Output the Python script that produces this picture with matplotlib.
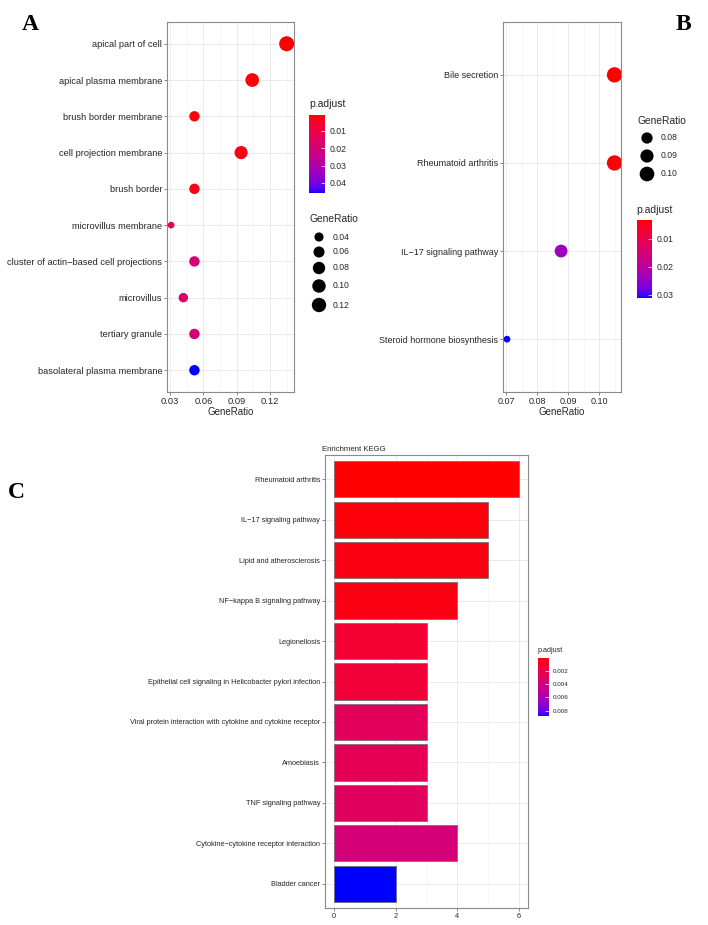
import numpy as np
import matplotlib
matplotlib.use("Agg")
import matplotlib.pyplot as plt
from matplotlib.colors import ListedColormap, Normalize
from matplotlib.cm import ScalarMappable

# ---- data -------------------------------------------------------------
go_terms = ["apical part of cell", "apical plasma membrane", "brush border membrane",
            "cell projection membrane", "brush border", "microvillus membrane",
            "cluster of actin\u2212based cell projections", "microvillus",
            "tertiary granule", "basolateral plasma membrane"]
go_ratio = [0.135, 0.104, 0.052, 0.094, 0.052, 0.031, 0.052, 0.042, 0.052, 0.052]
go_padj = [0.0008, 0.0012, 0.0022, 0.0024, 0.0030, 0.0095, 0.0200, 0.0160, 0.0200, 0.0458]
go_xticks = [0.03, 0.06, 0.09, 0.12]
go_size_breaks = [0.04, 0.06, 0.08, 0.10, 0.12]
go_cbar_ticks = [0.01, 0.02, 0.03, 0.04]

kd_terms = ["Bile secretion", "Rheumatoid arthritis", "IL\u221217 signaling pathway",
            "Steroid hormone biosynthesis"]
kd_ratio = [0.105, 0.105, 0.0877, 0.0702]
kd_padj = [0.0033, 0.0036, 0.0235, 0.0311]
kd_xticks = [0.07, 0.08, 0.09, 0.10]
kd_size_breaks = [0.08, 0.09, 0.10]
kd_cbar_ticks = [0.01, 0.02, 0.03]

kegg_terms = ["Rheumatoid arthritis", "IL\u221217 signaling pathway", "Lipid and atherosclerosis",
              "NF\u2212kappa B signaling pathway", "Legionellosis",
              "Epithelial cell signaling in Helicobacter pylori infection",
              "Viral protein interaction with cytokine and cytokine receptor",
              "Amoebiasis", "TNF signaling pathway", "Cytokine\u2212cytokine receptor interaction",
              "Bladder cancer"]
kegg_count = [6, 5, 5, 4, 3, 3, 3, 3, 3, 4, 2]
kegg_padj = [0.00006, 0.0002, 0.0004, 0.0004, 0.0012, 0.0014, 0.0027, 0.0025, 0.0028, 0.0038, 0.0088]
kegg_xticks = [0, 2, 4, 6]
kegg_cbar_ticks = [0.002, 0.004, 0.006, 0.008]

# ---- helpers ----------------------------------------------------------
W, H, DPI = 708, 925, 100
TXT = "#262626"
plt.rcParams["font.family"] = ["Liberation Sans", "DejaVu Sans"]


def srgb_to_lab(c):
    c = np.asarray(c, float)
    lin = np.where(c <= 0.04045, c / 12.92, ((c + 0.055) / 1.055) ** 2.4)
    m = np.array([[0.4124, 0.3576, 0.1805], [0.2126, 0.7152, 0.0722], [0.0193, 0.1192, 0.9505]])
    xyz = m @ lin / np.array([0.95047, 1.0, 1.08883])
    f = np.where(xyz > 0.008856, np.cbrt(xyz), 7.787 * xyz + 16 / 116)
    return np.array([116 * f[1] - 16, 500 * (f[0] - f[1]), 200 * (f[1] - f[2])])


def lab_to_srgb(lab):
    L, a, b = lab
    fy = (L + 16) / 116
    f = np.array([fy + a / 500, fy, fy - b / 200])
    xyz = np.where(f ** 3 > 0.008856, f ** 3, (f - 16 / 116) / 7.787) * np.array([0.95047, 1.0, 1.08883])
    m = np.array([[0.4124, 0.3576, 0.1805], [0.2126, 0.7152, 0.0722], [0.0193, 0.1192, 0.9505]])
    lin = np.clip(np.linalg.solve(m, xyz), 0, 1)
    return np.where(lin <= 0.0031308, 12.92 * lin, 1.055 * lin ** (1 / 2.4) - 0.055)


# red -> blue gradient interpolated in Lab, like ggplot's scale_colour_gradient
lab_r, lab_b = srgb_to_lab([1, 0, 0]), srgb_to_lab([0, 0, 1])
cmap = ListedColormap([lab_to_srgb(lab_r + t * (lab_b - lab_r)) for t in np.linspace(0, 1, 256)])


def rect(x0, y0, x1, y1):
    return [x0 / W, 1 - y1 / H, (x1 - x0) / W, (y1 - y0) / H]


def dot_size(v, vmin, vmax, dmin, dmax):
    t = np.clip((np.asarray(v) - vmin) / (vmax - vmin), 0, 1)
    d = dmin + (dmax - dmin) * np.sqrt(t)
    return (d * 72 / DPI) ** 2


def style_panel(ax, fs):
    ax.set_facecolor("white")
    for s in ax.spines.values():
        s.set_color("#8a8a8a")
        s.set_linewidth(0.8)
    ax.grid(True, which="major", color="#e8e8e8", lw=0.6)
    ax.grid(True, which="minor", axis="x", color="#f2f2f2", lw=0.4)
    ax.set_axisbelow(True)
    ax.tick_params(length=2, width=0.5, color="#555555", labelsize=fs, labelcolor=TXT, pad=1.5)
    ax.tick_params(which="minor", length=0)


def colorbar(fig, box, padj, ticks, fs, fmt):
    cax = fig.add_axes(rect(*box))
    sm = ScalarMappable(norm=Normalize(min(padj), max(padj)), cmap=cmap)
    cb = fig.colorbar(sm, cax=cax)
    cb.outline.set_visible(False)
    cb.set_ticks(ticks)
    cb.set_ticklabels([fmt.format(t) for t in ticks])
    cax.invert_yaxis()
    cax.tick_params(length=3, width=0.5, color="white", direction="in", labelsize=fs,
                    labelcolor=TXT, pad=3)
    return cax


def size_legend(fig, x, ys, breaks, vmin, vmax, dmin, dmax, fs, title, ty):
    lax = fig.add_axes([0, 0, 1, 1])
    lax.set_xlim(0, W)
    lax.set_ylim(H, 0)
    lax.axis("off")
    lax.text(x - 10, ty, title, fontsize=fs + 1.2, color=TXT, va="center", ha="left")
    lax.scatter([x] * len(breaks), ys, s=dot_size(breaks, vmin, vmax, dmin, dmax), c="black",
                linewidths=0)
    for y, b in zip(ys, breaks):
        lax.text(x + 14, y, f"{b:.2f}", fontsize=fs, color=TXT, va="center", ha="left")
    return lax


fig = plt.figure(figsize=(W / DPI, H / DPI), dpi=DPI)

# ---- panel A ----------------------------------------------------------
axA = fig.add_axes(rect(167, 22, 294, 392))
ya = np.arange(len(go_terms))
axA.scatter(go_ratio, ya, s=dot_size(go_ratio, min(go_ratio), max(go_ratio), 6.7, 15),
            c=go_padj, cmap=cmap, vmin=min(go_padj), vmax=max(go_padj), linewidths=0, zorder=3)
axA.set_ylim(len(go_terms) - 0.4, -0.6)
axA.set_xlim(0.0273, 0.1416)
axA.set_yticks(ya)
axA.set_yticklabels(go_terms)
axA.set_xticks(go_xticks)
axA.set_xticklabels([f"{t:.2f}" for t in go_xticks])
axA.set_xticks([0.045, 0.075, 0.105, 0.135], minor=True)
style_panel(axA, 6.7)
axA.set_xlabel("GeneRatio", fontsize=7, color=TXT, labelpad=0.5)

fig.text(309 / W, 1 - 104 / H, "p.adjust", fontsize=7.5, color=TXT, va="center")
colorbar(fig, (309, 115, 325, 193), go_padj, go_cbar_ticks, 6.2, "{:.2f}")
size_legend(fig, 319, [237, 252, 268, 286, 305], go_size_breaks, min(go_ratio), max(go_ratio),
            6.7, 15, 6.2, "GeneRatio", 219)

# ---- panel B ----------------------------------------------------------
axB = fig.add_axes(rect(503, 22, 621, 392))
yb = np.arange(len(kd_terms))
axB.scatter(kd_ratio, yb, s=dot_size(kd_ratio, min(kd_ratio), max(kd_ratio), 6.7, 15.3),
            c=kd_padj, cmap=cmap, vmin=min(kd_padj), vmax=max(kd_padj), linewidths=0, zorder=3)
axB.set_ylim(len(kd_terms) - 0.4, -0.6)
axB.set_xlim(0.0689, 0.1071)
axB.set_yticks(yb)
axB.set_yticklabels(kd_terms)
axB.set_xticks(kd_xticks)
axB.set_xticklabels([f"{t:.2f}" for t in kd_xticks])
axB.set_xticks([0.075, 0.085, 0.095, 0.105], minor=True)
style_panel(axB, 6.5)
axB.set_xlabel("GeneRatio", fontsize=7, color=TXT, labelpad=0.5)

size_legend(fig, 647, [138, 156, 174], kd_size_breaks, min(kd_ratio), max(kd_ratio),
            6.7, 15.3, 6.2, "GeneRatio", 121)
fig.text(636 / W, 1 - 210 / H, "p.adjust", fontsize=7.5, color=TXT, va="center")
colorbar(fig, (637, 220, 652, 298), kd_padj, kd_cbar_ticks, 6.2, "{:.2f}")

# ---- panel C ----------------------------------------------------------
axC = fig.add_axes(rect(325, 455, 528, 908))
yc = np.arange(len(kegg_terms))
norm_c = Normalize(min(kegg_padj), max(kegg_padj))
axC.barh(yc, kegg_count, height=0.9, color=cmap(norm_c(kegg_padj)), edgecolor="#6a6a6a",
         linewidth=0.5, zorder=3)
axC.set_ylim(len(kegg_terms) - 0.4, -0.6)
axC.set_xlim(-0.3, 6.3)
axC.set_yticks(yc)
axC.set_yticklabels(kegg_terms)
axC.set_xticks(kegg_xticks)
axC.set_xticks([1, 3, 5], minor=True)
style_panel(axC, 5.3)
axC.set_title("Enrichment KEGG", fontsize=5.6, color=TXT, loc="left", pad=3, x=-0.015)

fig.text(538 / W, 1 - 651 / H, "p.adjust", fontsize=5.2, color=TXT, va="center")
colorbar(fig, (538, 658, 549, 716), kegg_padj, kegg_cbar_ticks, 4.5, "{:.3f}")

# ---- panel letters ----------------------------------------------------
for lab, x, y in [("A", 30, 25), ("B", 683, 25), ("C", 16, 492)]:
    fig.text(x / W, 1 - y / H, lab, fontsize=17, fontweight="bold", family="Liberation Serif",
             ha="center", va="center")

fig.savefig("out.png", dpi=DPI)
